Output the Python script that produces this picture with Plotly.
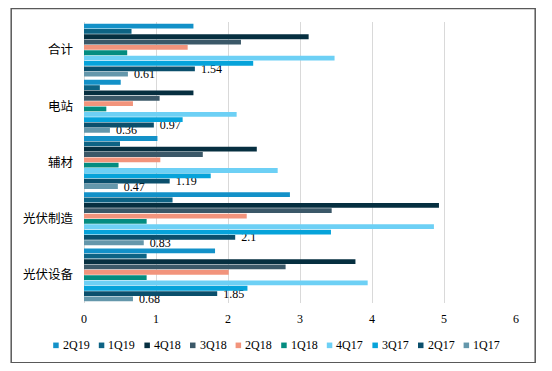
import plotly.graph_objects as go

categories = ["光伏设备", "光伏制造", "辅材", "电站", "合计"]
series_names = ["2Q19", "1Q19", "4Q18", "3Q18", "2Q18", "1Q18", "4Q17", "3Q17", "2Q17", "1Q17"]
colors = ["#1391C8", "#0D6384", "#062F40", "#3B5868", "#F2947C",
          "#038C80", "#6DD0F5", "#06A3DA", "#0B4F6C", "#6497AB"]

# values per series, in category order (光伏设备, 光伏制造, 辅材, 电站, 合计)
v_2Q19 = [1.82, 2.86, 1.02, 0.51, 1.52]
v_1Q19 = [0.87, 1.23, 0.50, 0.22, 0.66]
v_4Q18 = [3.77, 4.93, 2.40, 1.52, 3.12]
v_3Q18 = [2.80, 3.44, 1.65, 1.05, 2.18]
v_2Q18 = [2.01, 2.26, 1.06, 0.68, 1.44]
v_1Q18 = [0.87, 0.87, 0.48, 0.31, 0.60]
v_4Q17 = [3.94, 4.86, 2.69, 2.12, 3.48]
v_3Q17 = [2.27, 3.43, 1.76, 1.37, 2.35]
v_2Q17 = [1.85, 2.1, 1.19, 0.97, 1.54]
v_1Q17 = [0.68, 0.83, 0.47, 0.36, 0.61]

values = [v_2Q19, v_1Q19, v_4Q18, v_3Q18, v_2Q18, v_1Q18, v_4Q17, v_3Q17, v_2Q17, v_1Q17]
labeled = {"2Q17", "1Q17"}

FONT = "Liberation Serif, Noto Sans CJK SC, serif"

fig = go.Figure()
# add in reverse so 2Q19 sits at the top of each group
for name, col, vals in reversed(list(zip(series_names, colors, values))):
    show_text = name in labeled
    fig.add_trace(go.Bar(
        y=categories, x=vals, name=name, orientation="h",
        marker=dict(color=col, line=dict(width=0)),
        text=vals if show_text else None,
        texttemplate="\u00a0\u00a0%{x}" if show_text else None,
        textposition="outside" if show_text else "none",
        textfont=dict(family=FONT, size=12, color="#000000"),
        constraintext="none", cliponaxis=False,
        showlegend=False,
    ))

# page body has an 8px margin; figure pixel = window pixel - 8
OFF = 8
W, H = 536, 355
L = 84.3 - OFF
T = 22 - OFF
R = W - (516.3 - OFF)
B = H - (302.7 - OFF)
pw, ph = W - L - R, H - T - B

def px_x(p):
    return (p - OFF - L) / pw

def px_y(p):
    return (H - B - (p - OFF)) / ph

shapes = []
annotations = []
x0 = 53.5
step = 45.6
ymid = 345
for i, (name, col) in enumerate(zip(series_names, colors)):
    mx = x0 + i * step
    shapes.append(dict(type="rect", xref="paper", yref="paper",
                       x0=px_x(mx), x1=px_x(mx + 5.5),
                       y0=px_y(ymid + 2.8), y1=px_y(ymid - 2.8),
                       fillcolor=col, line=dict(width=0)))
    annotations.append(dict(xref="paper", yref="paper", x=px_x(mx + 7.5), y=px_y(ymid),
                            text=name, showarrow=False, xanchor="left", yanchor="middle",
                            font=dict(family=FONT, size=12, color="#000000")))

# outer border
shapes.append(dict(type="rect", xref="paper", yref="paper",
                   x0=px_x(11.5), x1=px_x(535.5), y0=px_y(362.5), y1=px_y(8.5),
                   line=dict(color="#595959", width=1.5), fillcolor="rgba(0,0,0,0)",
                   layer="below"))

fig.update_layout(
    width=W, height=H,
    margin=dict(l=L, r=R, t=T, b=B, pad=0),
    paper_bgcolor="white", plot_bgcolor="white",
    barmode="group", bargap=0.05, bargroupgap=0.1,
    showlegend=False,
    font=dict(family=FONT, size=12, color="#000000"),
    xaxis=dict(range=[0, 6], dtick=1, showgrid=True, gridcolor="#D9D9D9", gridwidth=1,
               zeroline=True, zerolinecolor="#D9D9D9", zerolinewidth=1,
               showline=False, ticks="", tickfont=dict(family=FONT, size=12, color="#000000"),
               ticklabelstandoff=7, fixedrange=True, automargin=False),
    yaxis=dict(type="category", categoryorder="array", categoryarray=categories,
               showgrid=False, zeroline=False, showline=False, ticks="",
               tickfont=dict(family=FONT, size=12.5, color="#000000"),
               ticklabelstandoff=10, fixedrange=True, automargin=False),
    shapes=shapes, annotations=annotations,
)

fig.write_html("out.html")
